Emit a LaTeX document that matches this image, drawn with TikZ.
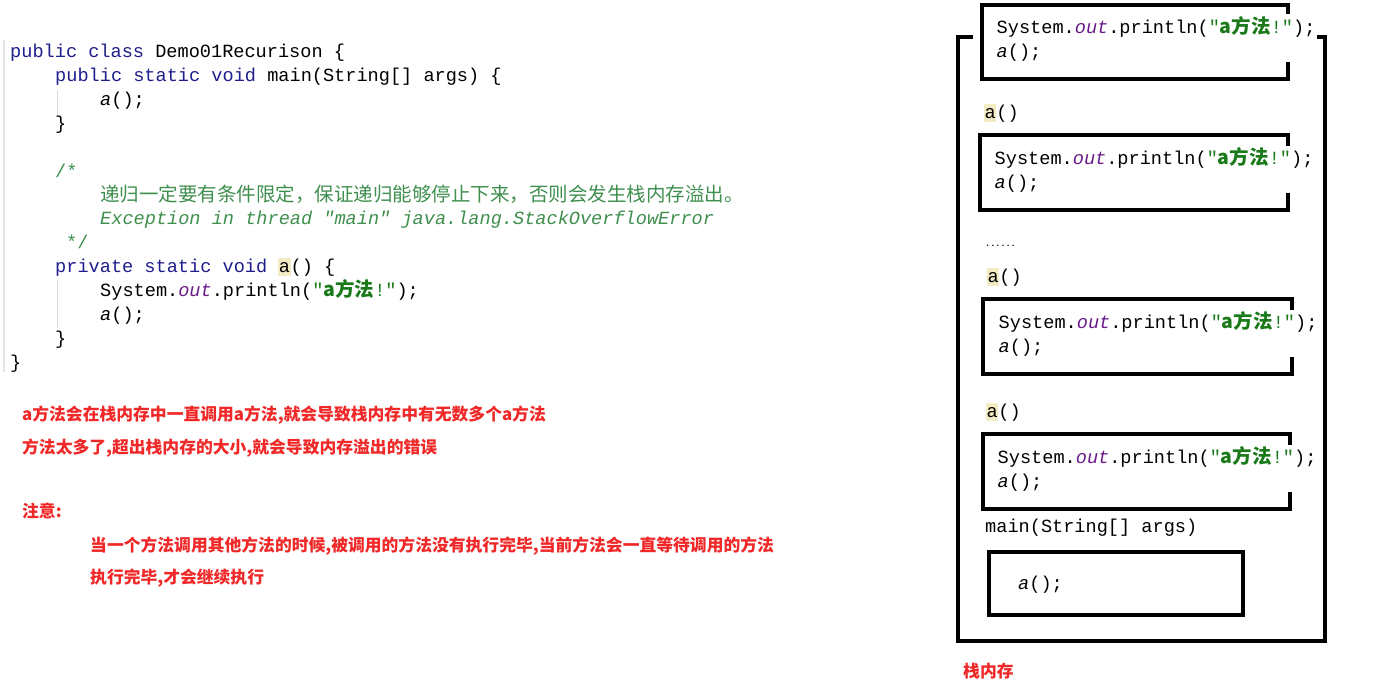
\documentclass[tikz,border=0pt]{standalone}
\usepackage{fontspec}
\setmonofont{Liberation Mono}
\newfontfamily\cjk{Noto Sans CJK SC}
\definecolor{jkwc}{HTML}{1E1E8C}
\definecolor{jstrc}{HTML}{1A7A1A}
\definecolor{jcmtc}{HTML}{3F8F4F}
\definecolor{jfldc}{HTML}{6A1B8A}
\definecolor{jhlc}{HTML}{F3EBC3}
\definecolor{jnotec}{HTML}{F02828}
\newcommand\jkw[1]{{\color{jkwc}#1}}
\newcommand\jhl[1]{{\setlength{\fboxsep}{0.5pt}\colorbox{jhlc}{\vphantom{()}#1}}}
\newcommand\jafa{{\color{jstrc}"{\cjk\fontsize{19.5}{24}\selectfont\bfseries a方法}!"}}
\newcommand\jout{{\color{jfldc}\itshape out}}
\newcommand\jcall{\textit{a}();}
\tikzset{
  code/.style={font=\ttfamily\fontsize{18.6}{24}\selectfont, anchor=base west, inner sep=0pt},
  cmt/.style={code, text=jcmtc},
  notetext/.style={font=\cjk\bfseries\fontsize{16.8}{20}\selectfont, text=jnotec, anchor=base west, inner sep=0pt},
  framebox/.style={draw, line width=3.5pt, rectangle, inner sep=0pt},
  boxtext/.style={code, align=left, fill=white, inner sep=1.5pt},
}
\begin{document}
\begin{tikzpicture}[x=1pt,y=-1pt]
\useasboundingbox[fill=white] (0,0) rectangle (1399,683);
% editor gutter
\draw[black!10, line width=1.5pt] (4,40) -- (4,372);
\draw[black!15, line width=0.6pt] (57,90) -- (57,114) (57,280) -- (57,328);
% left code
\node[code] (c1) at (10,57) {\jkw{public class} Demo01Recurison \{};
\node[code] (c2) at (55,81) {\jkw{public static void} main(String[] args) \{};
\node[code] (c3) at (100,105) {\jcall};
\node[code] (c4) at (55,129) {\}};
\node[cmt] (c5) at (55,177) {/*};
\node[anchor=base west, inner sep=0pt, text=jcmtc, font=\cjk\fontsize{19.5}{24}\selectfont] (c6) at (100,201) {递归一定要有条件限定，保证递归能够停止下来，否则会发生栈内存溢出。};
\node[cmt, font=\ttfamily\itshape\fontsize{18.6}{24}\selectfont] (c7) at (100,224) {Exception in thread "main" java.lang.StackOverflowError};
\node[cmt] (c8) at (66,248) {*/};
\node[code] (c9) at (55,272) {\jkw{private static void} \jhl{a}() \{};
\node[code] (c10) at (100,296) {System.\jout.println(\jafa);};
\node[code] (c11) at (100,320) {\jcall};
\node[code] (c12) at (55,344) {\}};
\node[code] (c13) at (10,368) {\}};
% red notes
\node[notetext] (n1) at (22,420) {a方法会在栈内存中一直调用a方法,就会导致栈内存中有无数多个a方法};
\node[notetext] (n2) at (22,453) {方法太多了,超出栈内存的大小,就会导致内存溢出的错误};
\node[notetext] (n3) at (22,517) {注意:};
\node[notetext] (n4) at (90,551) {当一个方法调用其他方法的时候,被调用的方法没有执行完毕,当前方法会一直等待调用的方法};
\node[notetext] (n5) at (90,583) {执行完毕,才会继续执行};
% stack frames
\node[framebox, minimum width=306pt, minimum height=74pt] (b1) at (1135,42) {};
\node[framebox, minimum width=308pt, minimum height=75pt] (b2) at (1134,172.5) {};
\node[framebox, minimum width=309pt, minimum height=75pt] (b3) at (1137.5,336.5) {};
\node[framebox, minimum width=307pt, minimum height=75pt] (b4) at (1136.5,471.5) {};
\node[framebox, minimum width=254pt, minimum height=63pt] (b5) at (1116,583.5) {};
\node[boxtext] (t1) at (995,57) {System.\jout.println(\jafa);\\\jcall};
\node[boxtext] (t2) at (993,188) {System.\jout.println(\jafa);\\\jcall};
\node[boxtext] (t3) at (997,352) {System.\jout.println(\jafa);\\\jcall};
\node[boxtext] (t4) at (996,487) {System.\jout.println(\jafa);\\\jcall};
\node[code] (t5) at (1018,589) {\jcall};
\node[code] (a1) at (984,118) {\jhl{a}()};
\node[code, font=\ttfamily\bfseries\fontsize{8.5}{9}\selectfont] (dots) at (985,246) {......};
\node[code] (a2) at (987,282) {\jhl{a}()};
\node[code] (a3) at (986,417) {\jhl{a}()};
\node[code] (m) at (985,532) {main(String[] args)};
% stack outline
\draw[line width=3.5pt, line join=miter] (973,37) -- (958,37) -- (958,641) -- (1325,641) -- (1325,37) -- (1317,37);
\node[notetext] (stk) at (963,677) {栈内存};
\end{tikzpicture}
\end{document}
